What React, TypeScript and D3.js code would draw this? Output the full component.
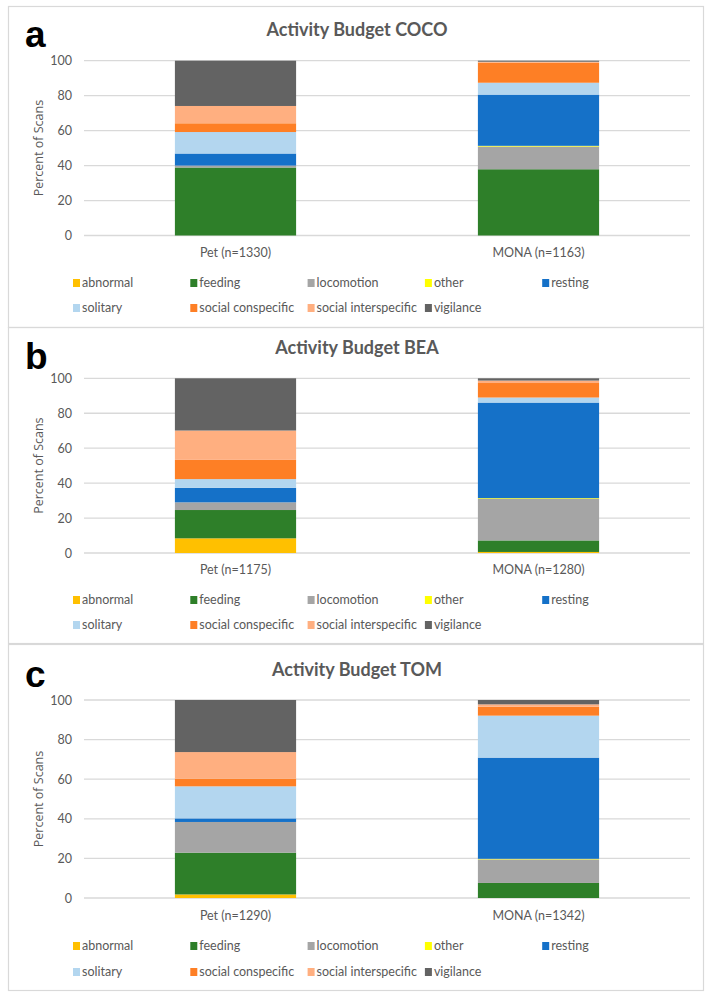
import React, { useEffect, useRef } from "react";
import * as d3 from "d3";

const activities = [
  "abnormal",
  "feeding",
  "locomotion",
  "other",
  "resting",
  "solitary",
  "social conspecific",
  "social interspecific",
  "vigilance",
];
const activityColors = [
  "#FFC000",
  "#2E7F29",
  "#A5A5A5",
  "#FFFF00",
  "#1571C8",
  "#B3D6EF",
  "#FE7F25",
  "#FFAF80",
  "#636363",
];
const groups = ["Pet", "MONA"];
const yTicks = [0, 20, 40, 60, 80, 100];

// percent of scans per activity, same order as activities
const cocoN = [1330, 1163];
const cocoPet = [0, 38.9, 1.1, 0, 6.9, 12.3, 5.0, 9.9, 25.9];
const cocoMona = [0, 37.9, 13.0, 0.4, 29.3, 6.8, 11.5, 0.5, 0.6];

const beaN = [1175, 1280];
const beaPet = [8.4, 16.2, 4.4, 0, 8.3, 5.0, 11.0, 16.8, 29.9];
const beaMona = [0.6, 6.6, 23.8, 0.4, 54.7, 2.9, 8.3, 1.4, 1.3];

const tomN = [1290, 1342];
const tomPet = [1.8, 21.1, 15.5, 0, 1.8, 16.2, 3.9, 13.4, 26.3];
const tomMona = [0, 7.6, 11.9, 0.3, 51.1, 21.2, 4.5, 1.2, 2.2];

const panels = [
  { letter: "a", title: "Activity Budget COCO", n: cocoN, values: [cocoPet, cocoMona] },
  { letter: "b", title: "Activity Budget BEA", n: beaN, values: [beaPet, beaMona] },
  { letter: "c", title: "Activity Budget TOM", n: tomN, values: [tomPet, tomMona] },
];

// layout of each panel box (pixels)
const layout = [
  { top: 6, bottom: 327, title: 30, letter: 47, yTop: 60.7, yBottom: 235.5, cat: 253, leg: [283, 308] },
  { top: 327, bottom: 643, title: 348, letter: 369, yTop: 378.3, yBottom: 553, cat: 570, leg: [600, 625] },
  { top: 644, bottom: 990, title: 670, letter: 687, yTop: 700, yBottom: 898, cat: 916, leg: [946, 972] },
];

const W = 709;
const H = 996;
const textColor = "#595959";
const font = "Lato, 'Open Sans', sans-serif";

const App = () => {
  const ref = useRef<SVGSVGElement>(null);

  useEffect(() => {
    const svg = d3.select(ref.current);
    svg.selectAll("*").remove();

    svg.append("rect").attr("width", W).attr("height", H).attr("fill", "#fff");

    const x = d3
      .scaleBand()
      .domain(groups)
      .range([84, 690])
      .paddingInner(0.6)
      .paddingOuter(0.3);

    panels.forEach((p, pi) => {
      const L = layout[pi];
      const g = svg.append("g");

      // panel frame
      g.append("rect")
        .attr("x", 8.5)
        .attr("y", L.top + 0.5)
        .attr("width", 695)
        .attr("height", L.bottom - L.top)
        .attr("fill", "none")
        .attr("stroke", "#D9D9D9")
        .attr("stroke-width", 1.2);

      // panel letter
      g.append("text")
        .attr("x", 25)
        .attr("y", L.letter)
        .attr("font-family", "'Liberation Sans', Arial, sans-serif")
        .attr("font-weight", "bold")
        .attr("font-size", 37)
        .attr("fill", "#000")
        .text(p.letter);

      // title
      g.append("text")
        .attr("x", 357)
        .attr("y", L.title)
        .attr("dy", "0.35em")
        .attr("text-anchor", "middle")
        .attr("font-family", font)
        .attr("font-weight", "bold")
        .attr("font-size", 18)
        .attr("fill", textColor)
        .text(p.title);

      const y = d3.scaleLinear().domain([0, 100]).range([L.yBottom, L.yTop]);

      // gridlines
      g.append("g")
        .selectAll("line")
        .data(yTicks)
        .join("line")
        .attr("x1", 84)
        .attr("x2", 690)
        .attr("y1", (d) => y(d))
        .attr("y2", (d) => y(d))
        .attr("stroke", "#D9D9D9")
        .attr("stroke-width", 1.3);

      // y axis labels
      const ay = g
        .append("g")
        .attr("transform", "translate(84,0)")
        .call(d3.axisLeft(y).tickValues(yTicks).tickSize(0).tickPadding(12));
      ay.select(".domain").remove();
      ay.selectAll("text")
        .attr("font-family", font)
        .attr("font-size", 12.5)
        .attr("fill", textColor);

      // y axis title
      g.append("text")
        .attr("transform", `translate(39,${(L.yTop + L.yBottom) / 2}) rotate(-90)`)
        .attr("dy", "0.35em")
        .attr("text-anchor", "middle")
        .attr("font-family", "'Open Sans', sans-serif")
        .attr("font-size", 12.5)
        .attr("fill", textColor)
        .text("Percent of Scans");

      // stacked bars
      const rows = groups.map((grp, gi) => {
        const row: any = { group: grp };
        activities.forEach((a, ai) => (row[a] = p.values[gi][ai]));
        return row;
      });
      const stacked = d3.stack().keys(activities)(rows);

      g.append("g")
        .selectAll("g")
        .data(stacked)
        .join("g")
        .attr("fill", (d, i) => activityColors[i])
        .selectAll("rect")
        .data((d) => d)
        .join("rect")
        .attr("x", (d: any) => x(d.data.group)!)
        .attr("width", x.bandwidth())
        .attr("y", (d) => y(d[1]))
        .attr("height", (d) => Math.max(0, y(d[0]) - y(d[1])));

      // category labels
      g.append("g")
        .selectAll("text")
        .data(groups)
        .join("text")
        .attr("x", (d) => x(d)! + x.bandwidth() / 2)
        .attr("y", L.cat)
        .attr("dy", "0.35em")
        .attr("text-anchor", "middle")
        .attr("font-family", font)
        .attr("font-size", 12.5)
        .attr("fill", textColor)
        .text((d, i) => `${d} (n=${p.n[i]})`);

      // legend
      const leg = g
        .append("g")
        .selectAll("g")
        .data(activities)
        .join("g")
        .attr(
          "transform",
          (d, i) => `translate(${73 + (i % 5) * 117.3},${L.leg[Math.floor(i / 5)]})`
        );
      leg.append("rect")
        .attr("x", 0)
        .attr("y", -4)
        .attr("width", 7)
        .attr("height", 8)
        .attr("fill", (d, i) => activityColors[i]);
      leg.append("text")
        .attr("x", 9)
        .attr("dy", "0.35em")
        .attr("font-family", font)
        .attr("font-size", 12.5)
        .attr("fill", textColor)
        .text((d) => d);
    });
  }, []);

  return (
    <div style={{ position: "absolute", left: 0, top: 0 }}>
      <svg ref={ref} width={W} height={H} style={{ display: "block" }}></svg>
    </div>
  );
};

export default App;
